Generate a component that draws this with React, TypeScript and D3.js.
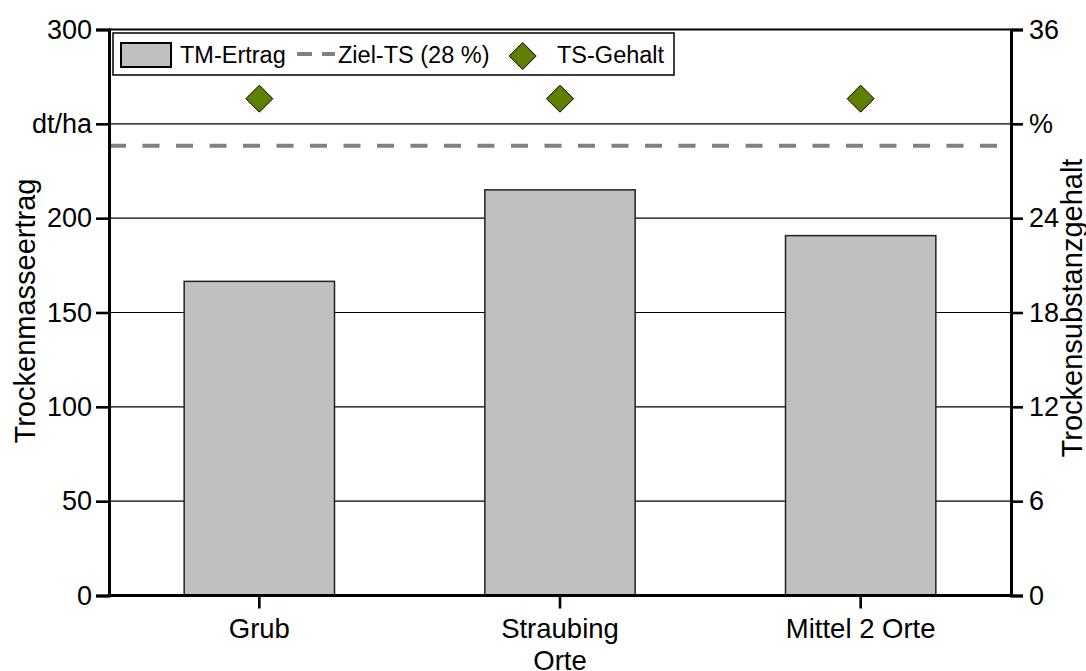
import * as React from 'react';
import { useEffect, useRef } from 'react';
import * as d3 from 'd3';

const categories = ['Grub', 'Straubing', 'Mittel 2 Orte'];
const tmErtrag = [166.5, 215, 190.75];
const tsGehalt = [31.6, 31.6, 31.6];
const zielTS = 28.6;
const leftTicks = [0, 50, 100, 150, 200, 250, 300];
const rightTicks = [0, 6, 12, 18, 24, 30, 36];
const legendLabels = ['TM-Ertrag', 'Ziel-TS (28 %)', 'TS-Gehalt'];

const W = 1086;
const H = 671;
const FONT = '"Liberation Sans", Arial, sans-serif';

const App: React.FC = () => {
  const svgRef = useRef<SVGSVGElement>(null);

  useEffect(() => {
    if (!svgRef.current) return;
    const svg = d3.select(svgRef.current);
    svg.selectAll('*').remove();

    const left = 109, right = 1011, top = 29.5, bottom = 595.5;

    const x = d3.scaleBand<string>()
      .domain(categories)
      .range([left, right])
      .paddingInner(0.5)
      .paddingOuter(0.25);

    const yL = d3.scaleLinear().domain([0, 300]).range([bottom, top]);
    const yR = d3.scaleLinear().domain([0, 36]).range([bottom, top]);

    svg.append('rect').attr('width', W).attr('height', H).attr('fill', '#fff');

    // gridlines
    svg.append('g')
      .selectAll('line')
      .data(leftTicks.filter(t => t > 0 && t < 300))
      .enter()
      .append('line')
      .attr('x1', left).attr('x2', right)
      .attr('y1', d => yL(d)).attr('y2', d => yL(d))
      .attr('stroke', '#000')
      .attr('stroke-width', 1.2);

    // bars
    svg.append('g')
      .selectAll('rect')
      .data(tmErtrag)
      .enter()
      .append('rect')
      .attr('x', (_, i) => x(categories[i])!)
      .attr('width', x.bandwidth())
      .attr('y', d => yL(d))
      .attr('height', d => yL(0) - yL(d))
      .attr('fill', '#c0c0c0')
      .attr('stroke', '#222')
      .attr('stroke-width', 1.5);

    // target line
    svg.append('line')
      .attr('x1', left).attr('x2', right)
      .attr('y1', yR(zielTS)).attr('y2', yR(zielTS))
      .attr('stroke', '#808080')
      .attr('stroke-width', 4)
      .attr('stroke-dasharray', '17,16.5');

    // diamonds
    const diamond = (cx: number, cy: number, r: number) =>
      `M${cx},${cy - r}L${cx + r},${cy}L${cx},${cy + r}L${cx - r},${cy}Z`;

    svg.append('g')
      .selectAll('path')
      .data(tsGehalt)
      .enter()
      .append('path')
      .attr('d', (d, i) => diamond(x(categories[i])! + x.bandwidth() / 2, yR(d), 13.5))
      .attr('fill', '#5f7f00')
      .attr('stroke', '#000')
      .attr('stroke-width', 1);

    // frame
    svg.append('line').attr('x1', left).attr('x2', right).attr('y1', top).attr('y2', top)
      .attr('stroke', '#000').attr('stroke-width', 2.2);

    // left axis
    const gL = svg.append('g')
      .attr('transform', `translate(${left},0)`)
      .call(d3.axisLeft(yL).tickValues(leftTicks).tickSize(13).tickPadding(4)
        .tickFormat(d => (d === 250 ? 'dt/ha' : String(d))));
    gL.select('.domain').attr('stroke-width', 3);
    gL.selectAll('.tick line').attr('stroke-width', 2.6);
    gL.selectAll('.tick text').attr('font-size', 27).attr('font-family', FONT).attr('fill', '#000');

    // right axis
    const gR = svg.append('g')
      .attr('transform', `translate(${right},0)`)
      .call(d3.axisRight(yR).tickValues(rightTicks).tickSize(12).tickPadding(6)
        .tickFormat(d => (d === 30 ? '%' : String(d))));
    gR.select('.domain').attr('stroke-width', 3);
    gR.selectAll('.tick line').attr('stroke-width', 2.6);
    gR.selectAll('.tick text').attr('font-size', 27).attr('font-family', FONT).attr('fill', '#000');

    // bottom axis
    const gB = svg.append('g')
      .attr('transform', `translate(0,${bottom})`)
      .call(d3.axisBottom(x).tickSizeOuter(0).tickSize(13).tickPadding(10));
    gB.select('.domain').attr('stroke-width', 3.2).attr('d', `M${left - 1.5},0H${right + 1.5}`);
    gB.selectAll('.tick line').attr('stroke-width', 2.6);
    gB.selectAll('.tick text').attr('font-size', 27.5).attr('font-family', FONT).attr('fill', '#000');

    // axis titles
    svg.append('text')
      .attr('transform', `translate(35,311) rotate(-90)`)
      .attr('text-anchor', 'middle')
      .attr('font-size', 29)
      .attr('font-family', FONT)
      .text('Trockenmasseertrag');

    svg.append('text')
      .attr('transform', `translate(1082,308) rotate(-90)`)
      .attr('text-anchor', 'middle')
      .attr('font-size', 29)
      .attr('font-family', FONT)
      .text('Trockensubstanzgehalt');

    svg.append('text')
      .attr('x', (left + right) / 2)
      .attr('y', 670)
      .attr('text-anchor', 'middle')
      .attr('font-size', 27.5)
      .attr('font-family', FONT)
      .text('Orte');

    // legend
    const lg = svg.append('g');
    lg.append('rect')
      .attr('x', 113).attr('y', 33).attr('width', 561).attr('height', 42)
      .attr('fill', '#fff').attr('stroke', '#000').attr('stroke-width', 1.5);
    lg.append('rect')
      .attr('x', 121).attr('y', 43).attr('width', 50).attr('height', 24)
      .attr('fill', '#c0c0c0').attr('stroke', '#000').attr('stroke-width', 2);
    lg.append('text').attr('x', 180).attr('y', 63)
      .attr('font-size', 23.5).attr('font-family', FONT).text(legendLabels[0]);
    lg.append('line')
      .attr('x1', 297).attr('x2', 335).attr('y1', 54).attr('y2', 54)
      .attr('stroke', '#808080').attr('stroke-width', 4).attr('stroke-dasharray', '15,10');
    lg.append('text').attr('x', 338).attr('y', 63)
      .attr('font-size', 23.5).attr('font-family', FONT).text(legendLabels[1]);
    lg.append('path')
      .attr('d', diamond(522.7, 56, 13.5))
      .attr('fill', '#5f7f00').attr('stroke', '#000').attr('stroke-width', 1);
    lg.append('text').attr('x', 557).attr('y', 63)
      .attr('font-size', 23.5).attr('font-family', FONT).text(legendLabels[2]);
  }, []);

  return (
    <svg
      ref={svgRef}
      width={W}
      height={H}
      viewBox={`0 0 ${W} ${H}`}
      style={{ position: 'absolute', left: 0, top: 0 }}
    />
  );
};

export default App;
